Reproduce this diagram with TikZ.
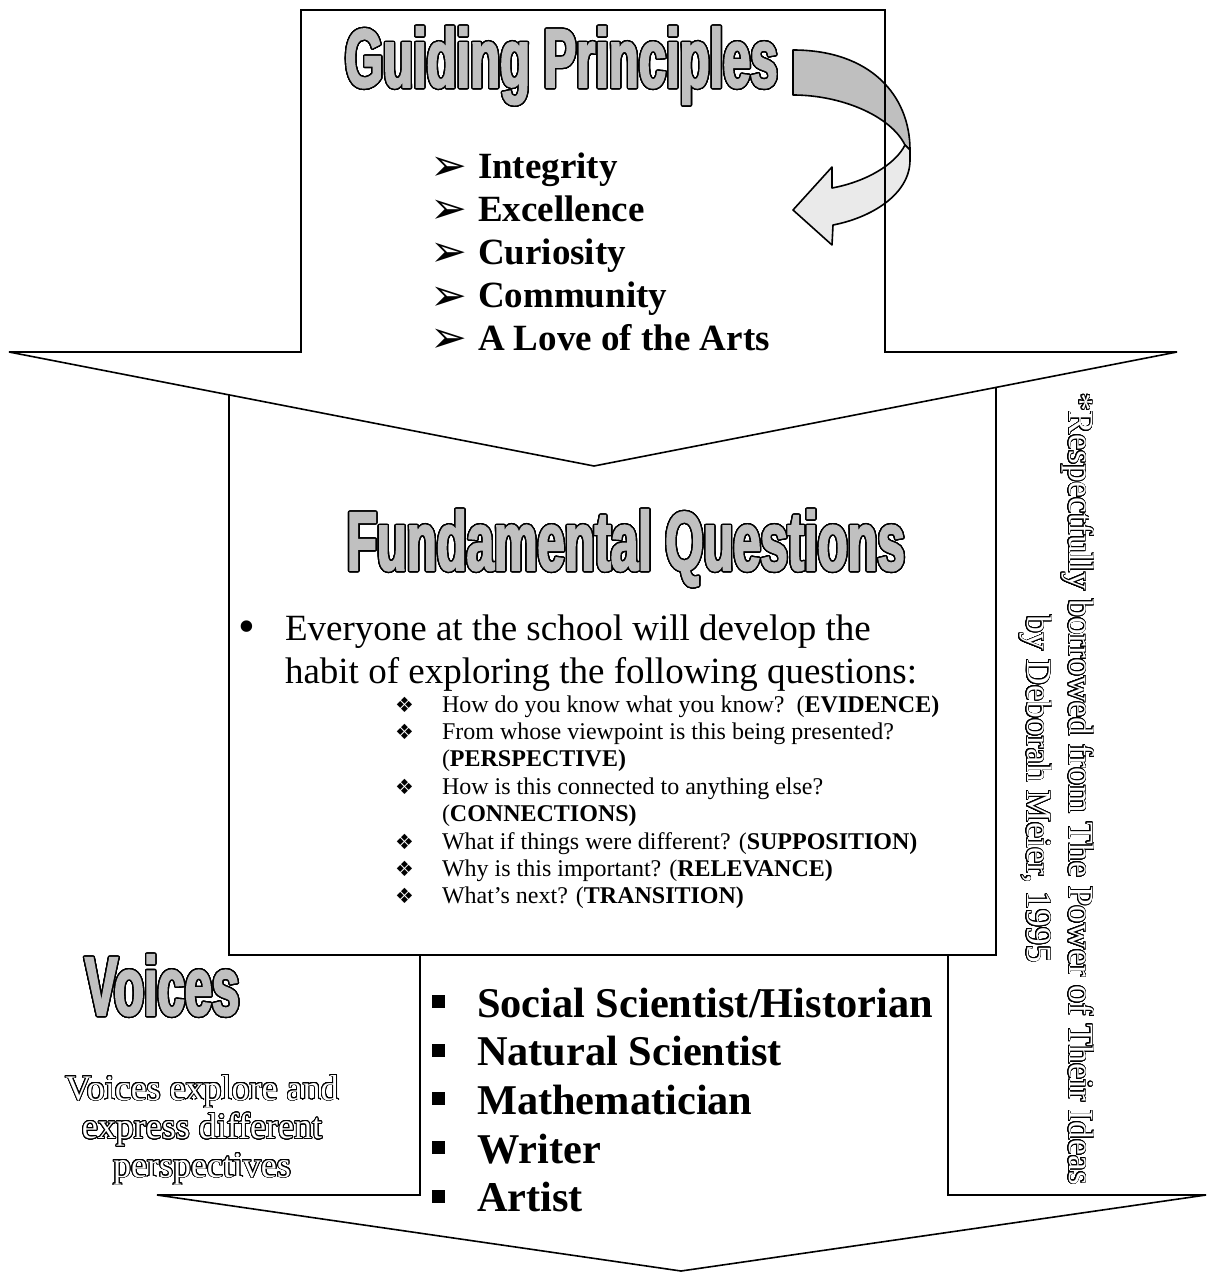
\documentclass[tikz,border=0pt]{standalone}
\usepackage{fontspec}
\setmainfont{Liberation Serif}
\newfontfamily\headfont[FakeStretch=0.59,FakeBold=2.2]{Liberation Sans Bold}
\newfontfamily\symfont{DejaVu Sans}
\usepackage{xcolor}
\usepackage{contour}
\contournumber{32}
\definecolor{headgray}{RGB}{192,192,192}
\definecolor{bandgray}{RGB}{191,191,191}
\definecolor{backgray}{RGB}{234,234,234}
\newcommand{\hdtext}[1]{{\headfont\color{headgray}\contourlength{1.4pt}\contour{black}{#1}}}
\newcommand{\hollowtext}[1]{{\color{white}\contourlength{0.9pt}\contour{black}{#1}}}
\newcommand{\arrbul}{\makebox[48pt][l]{\symfont\mdseries\fontsize{44}{44}\selectfont\raisebox{-2pt}{➢}}}
\newcommand{\diabul}{\makebox[47pt][l]{\symfont\fontsize{21}{21}\selectfont ❖}}
\newcommand{\sqbul}{\makebox[45pt][l]{\raisebox{9pt}{\rule{13pt}{13pt}}}}
\newcommand{\dotbul}{\makebox[47pt][l]{\fontsize{48}{48}\selectfont\raisebox{-2pt}{•}}}
\begin{document}
\begin{tikzpicture}[x=1pt, y=-1pt,
	arrowbox/.style={draw, line width=1.6pt, fill=white, line join=miter},
	band/.style={draw, line width=1.6pt, line join=round},
	txt/.style={inner sep=0pt, outer sep=0pt, anchor=base west}]
	\useasboundingbox (0,0) rectangle (1209,1273);

	% boxes
	\draw[arrowbox] (229,370) rectangle (996,955);
	\draw[arrowbox] (301,10) -- (885,10) -- (885,352) -- (1177,352) -- (594,466) -- (9,352) -- (301,352) -- cycle;
	% turning arrow
	\draw[band, fill=bandgray] (793,50) .. controls (870,50) and (910,95) .. (910,150) -- (905,145) .. controls (890,115) and (840,95) .. (793,95) -- cycle;
	\draw[band, fill=backgray] (905,145) .. controls (895,165) and (865,182) .. (832,188) -- (832,167) -- (793,210) -- (832,245) -- (833,225) .. controls (870,218) and (910,195) .. (910,160) -- (910,150) -- cycle;
	\draw[line width=1.6pt] (885,10) -- (885,352);
	\draw[arrowbox] (420,955) -- (948,955) -- (948,1195) -- (1206,1195) -- (681,1271) -- (157,1195) -- (420,1195) -- cycle;

	\node[txt] (guide) at (345,87) {\fontsize{83}{83}\selectfont\hdtext{Guiding Principles}};
	\node[txt] (guidelist) at (430,179) {\fontsize{37}{43}\selectfont\bfseries
		\begin{tabular}[t]{@{}l@{}}
		\arrbul Integrity\\
		\arrbul Excellence\\
		\arrbul Curiosity\\
		\arrbul Community\\
		\arrbul A Love of the Arts
		\end{tabular}};

	\node[txt] (fundq) at (347,570) {\fontsize{83}{83}\selectfont\hdtext{Fundamental Questions}};
	\node[txt] (everyone) at (238,640) {\fontsize{37}{43}\selectfont
		\begin{tabular}[t]{@{}l@{}}
		\dotbul Everyone at the school will develop the\\
		\hspace*{47pt}habit of exploring the following questions:
		\end{tabular}};
	\node[txt] (questions) at (395,712) {\fontsize{24}{27.4}\selectfont
		\begin{tabular}[t]{@{}l@{}}
		\diabul How do you know what you know?\ \ (\textbf{EVIDENCE)}\\
		\diabul From whose viewpoint is this being presented?\\
		\hspace*{47pt}(\textbf{PERSPECTIVE)}\\
		\diabul How is this connected to anything else?\\
		\hspace*{47pt}(\textbf{CONNECTIONS)}\\
		\diabul What if things were different? (\textbf{SUPPOSITION)}\\
		\diabul Why is this important? (\textbf{RELEVANCE)}\\
		\diabul What’s next? (\textbf{TRANSITION)}
		\end{tabular}};

	\node[txt] (voices) at (85,1015) {\fontsize{83}{83}\selectfont\hdtext{Voices}};
	\node[inner sep=0pt, anchor=base] (voicetext) at (202,1100) {\fontsize{36}{38.5}\selectfont
		\begin{tabular}[t]{@{}c@{}}
		\hollowtext{Voices explore and}\\
		\hollowtext{express different}\\
		\hollowtext{perspectives}
		\end{tabular}};
	\node[txt] (voicelist) at (432,1017) {\fontsize{42.4}{48.7}\selectfont\bfseries
		\begin{tabular}[t]{@{}l@{}}
		\sqbul Social Scientist/Historian\\
		\sqbul Natural Scientist\\
		\sqbul Mathematician\\
		\sqbul Writer\\
		\sqbul Artist
		\end{tabular}};

	\node[inner sep=0pt, anchor=base, rotate=-90] (cite) at (1069,789) {\fontsize{35.5}{42}\selectfont
		\begin{tabular}[t]{@{}c@{}}
		\hollowtext{*Respectfully borrowed from The Power of Their Ideas}\\
		\hollowtext{by Deborah Meier, 1995}
		\end{tabular}};
\end{tikzpicture}
\end{document}
